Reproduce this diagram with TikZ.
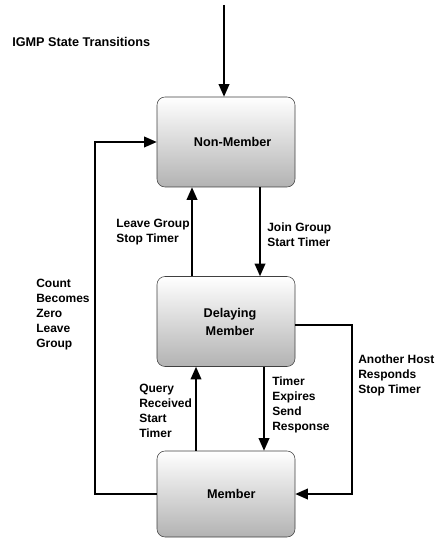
\documentclass[tikz,border=0pt]{standalone}
\usepackage{fontspec}
\setmainfont{Liberation Sans}
\usetikzlibrary{arrows.meta}
\begin{document}
\begin{tikzpicture}[x=0.75pt, y=-0.75pt, font=\bfseries\fontsize{9}{11.25}\selectfont,
  state/.style={draw=black!75, rounded corners=6pt, top color=white, bottom color=gray!60, minimum width=103.5pt, minimum height=67.5pt, align=center, font=\bfseries\fontsize{9.5}{13.5}\selectfont},
  flow/.style={-{Triangle[length=9.5pt, width=8pt]}, line width=1.3pt},
  lbl/.style={anchor=west, align=left, inner sep=0pt}]
  \useasboundingbox (0,0) rectangle (435,538);
  \node[lbl, font=\bfseries\fontsize{9.5}{11.25}\selectfont] (title) at (12,42) {IGMP State Transitions};
  % states
  \node[state] (nm) at (226,142) {\hspace*{10pt}Non-Member};
  \node[state] (dm) at (226,321.5) {\hspace*{6pt}Delaying\\\hspace*{6pt}Member};
  \node[state, minimum height=64.5pt] (mb) at (226,494) {\hspace*{8pt}Member};
  \coordinate (start) at (224,5);
  % transitions
  \draw[flow] (start) -- (start |- nm.north);
  \draw[flow] ([xshift=-25.5pt]dm.north) -- ([xshift=-25.5pt]nm.south);
  \draw[flow] ([xshift=25.5pt]nm.south) -- ([xshift=25.5pt]dm.north);
  \draw[flow] ([xshift=-22.5pt]mb.north) -- ([xshift=-22.5pt]dm.south);
  \draw[flow] ([xshift=28.5pt]dm.south) -- ([xshift=28.5pt]mb.north);
  \draw[flow] (mb.west) -- ++(-62,0) |- (nm.west);
  \draw[flow] ([yshift=-2.5pt]dm.east) -- ++(57,0) |- (mb.east);
  % labels
  \node[lbl] (leave) at (116,232.5) {Leave Group\\Stop Timer};
  \node[lbl] (join) at (267,234.5) {Join Group\\Start Timer};
  \node[lbl] (count) at (36,314.5) {Count\\Becomes\\Zero\\Leave\\Group};
  \node[lbl] (other) at (358,375) {Another Host\\Responds\\Stop Timer};
  \node[lbl] (query) at (139,411) {Query\\Received\\Start\\Timer};
  \node[lbl] (expire) at (272,404.5) {Timer\\Expires\\Send\\Response};
\end{tikzpicture}
\end{document}
